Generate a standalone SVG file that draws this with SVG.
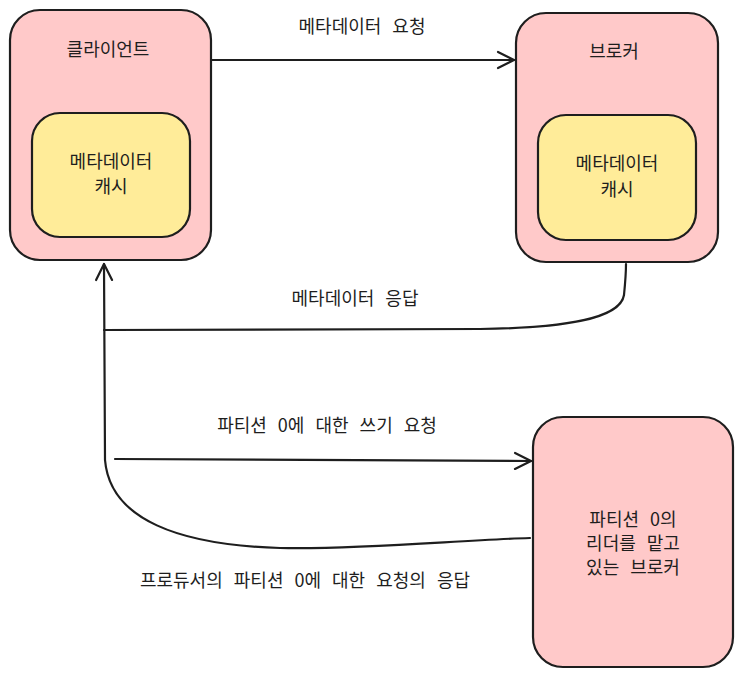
<svg xmlns="http://www.w3.org/2000/svg" width="742" height="677" viewBox="0 0 742 677">
<style>
.box{fill:#ffc9c9;stroke:#1e1e1e;stroke-width:2.2}
.cache{fill:#ffec99;stroke:#1e1e1e;stroke-width:2.2}
.t{font-family:"Noto Sans CJK KR","Noto Sans",sans-serif;font-size:18px;word-spacing:7px;fill:#1e1e1e;text-anchor:middle;dominant-baseline:central}
.c{fill:none;stroke:#1e1e1e;stroke-width:2.2;stroke-linecap:round;stroke-linejoin:round}
</style>
<defs>
<marker id="ah" viewBox="0 0 20 20" refX="18" refY="10" markerWidth="20" markerHeight="20" markerUnits="userSpaceOnUse" orient="auto">
<path d="M2,2 L18,10 L2,18" fill="none" stroke="#1e1e1e" stroke-width="2.2" stroke-linecap="round" stroke-linejoin="round"/>
</marker>
</defs>
<g id="client">
<rect class="box" x="10" y="10" width="201" height="250" rx="30"/>
<text class="t" x="108" y="48">클라이언트</text>
</g>
<g id="client-cache">
<rect class="cache" x="32" y="113" width="158" height="124" rx="28"/>
<text class="t" x="111" y="160">메타데이터</text>
<text class="t" x="111" y="185">캐시</text>
</g>
<g id="broker">
<rect class="box" x="516" y="13" width="202" height="249" rx="30"/>
<text class="t" x="614" y="50">브로커</text>
</g>
<g id="broker-cache">
<rect class="cache" x="538" y="115" width="158" height="125" rx="28"/>
<text class="t" x="617" y="162">메타데이터</text>
<text class="t" x="617" y="188">캐시</text>
</g>
<g id="leader">
<rect class="box" x="533" y="417" width="200" height="250" rx="30"/>
<text class="t" x="633" y="518">파티션 0의</text>
<text class="t" x="633" y="542">리더를 맡고</text>
<text class="t" x="633" y="566">있는 브로커</text>
</g>
<g id="connectors">
<path class="c" d="M211,60 L514,60" marker-end="url(#ah)"/>
<path class="c" d="M626,264 C626,272 625,285 624,295 C620,320 560,328 480,329 L104,330"/>
<path class="c" d="M530,538 C460,540 360,550 280,548 C180,545 110,520 105,460 L104,264" marker-end="url(#ah)"/>
<path class="c" d="M115,459 L531,461" marker-end="url(#ah)"/>
</g>
<g id="labels">
<text class="t" x="362" y="25">메타데이터 요청</text>
<text class="t" x="355" y="297">메타데이터 응답</text>
<text class="t" x="327" y="424">파티션 0에 대한 쓰기 요청</text>
<text class="t" x="305" y="579">프로듀서의 파티션 0에 대한 요청의 응답</text>
</g>
</svg>
